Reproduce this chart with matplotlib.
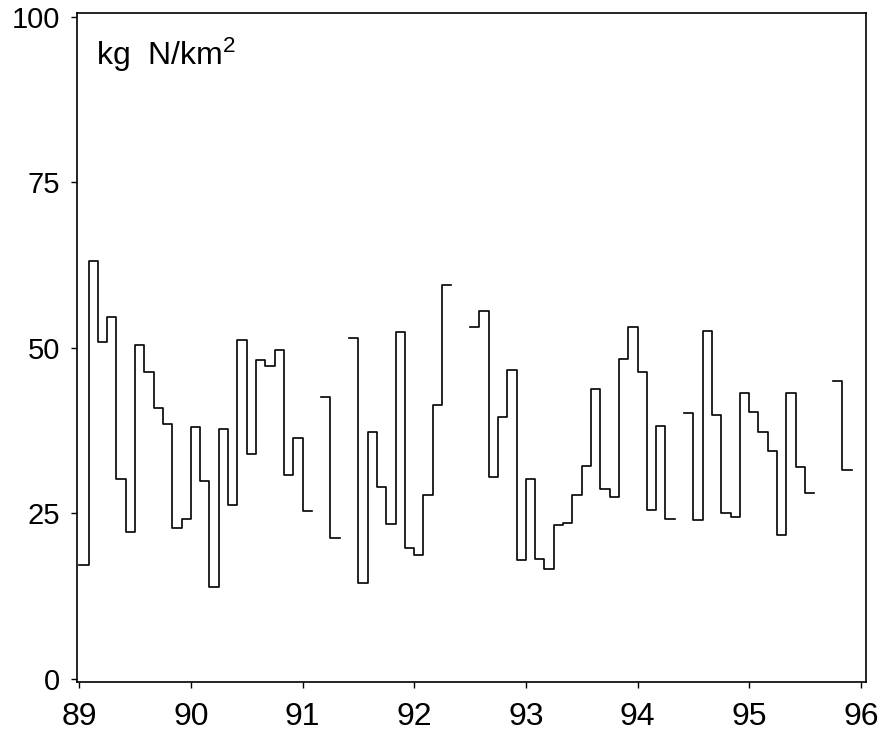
import numpy as np
import matplotlib.pyplot as plt

plt.rcParams['font.family'] = ['Liberation Sans', 'DejaVu Sans']
plt.rcParams['mathtext.default'] = 'regular'

nan = np.nan

# monthly nitrogen load, Jan 1989 .. Dec 1995 (missing months as nan)
y1989 = [17.2, 63.1, 50.8, 54.7, 30.1, 22.2, 50.4, 46.3, 40.9, 38.5, 22.8, 24.1]
y1990 = [38.0, 29.8, 13.9, 37.7, 26.3, 51.1, 33.9, 48.1, 47.2, 49.7, 30.7, 36.4]
y1991 = [25.3, nan, 42.6, 21.2, nan, 51.4, 14.4, 37.3, 28.9, 23.3, 52.3, 19.7]
y1992 = [18.7, 27.7, 41.3, 59.5, nan, nan, 53.1, 55.6, 30.5, 39.5, 46.6, 18.0]
y1993 = [30.1, 18.1, 16.6, 23.2, 23.5, 27.8, 32.2, 43.8, 28.7, 27.5, 48.3, 53.1]
y1994 = [46.3, 25.5, 38.2, 24.2, nan, 40.1, 24.0, 52.5, 39.9, 25.1, 24.4, 43.1]
y1995 = [40.3, 37.3, 34.4, 21.7, 43.2, 32.0, 28.1, nan, nan, 44.9, 31.5, nan]

years = [89, 90, 91, 92, 93, 94, 95, 96]
yticks = [0, 25, 50, 75, 100]

load = np.array(y1989 + y1990 + y1991 + y1992 + y1993 + y1994 + y1995)
t = 89 + np.arange(len(load)) / 12.0
# extra point so the last month gets its full width
t = np.append(t, 96.0)
load = np.append(load, nan)

fig = plt.figure(figsize=(8.92, 7.39), dpi=100)
ax = fig.add_axes([0.0863, 0.077, 0.885, 0.905])

ax.step(t, load, where='post', color='black', lw=1.2)

ax.set_xlim(88.98, 96.05)
ax.set_ylim(-0.5, 100.5)
ax.set_xticks(years)
ax.set_xticklabels([str(y) for y in years])
ax.set_yticks(yticks)
ax.tick_params(direction='out', length=4, width=1)
ax.tick_params(axis='y', labelsize=21, pad=8)
ax.tick_params(axis='x', labelsize=23, pad=10)
for s in ax.spines.values():
    s.set_linewidth(1.2)

ax.text(0.024, 0.967, 'kg  N/km$^2$', transform=ax.transAxes,
        fontsize=23, va='top', ha='left')

fig.savefig('out.png', dpi=100)
